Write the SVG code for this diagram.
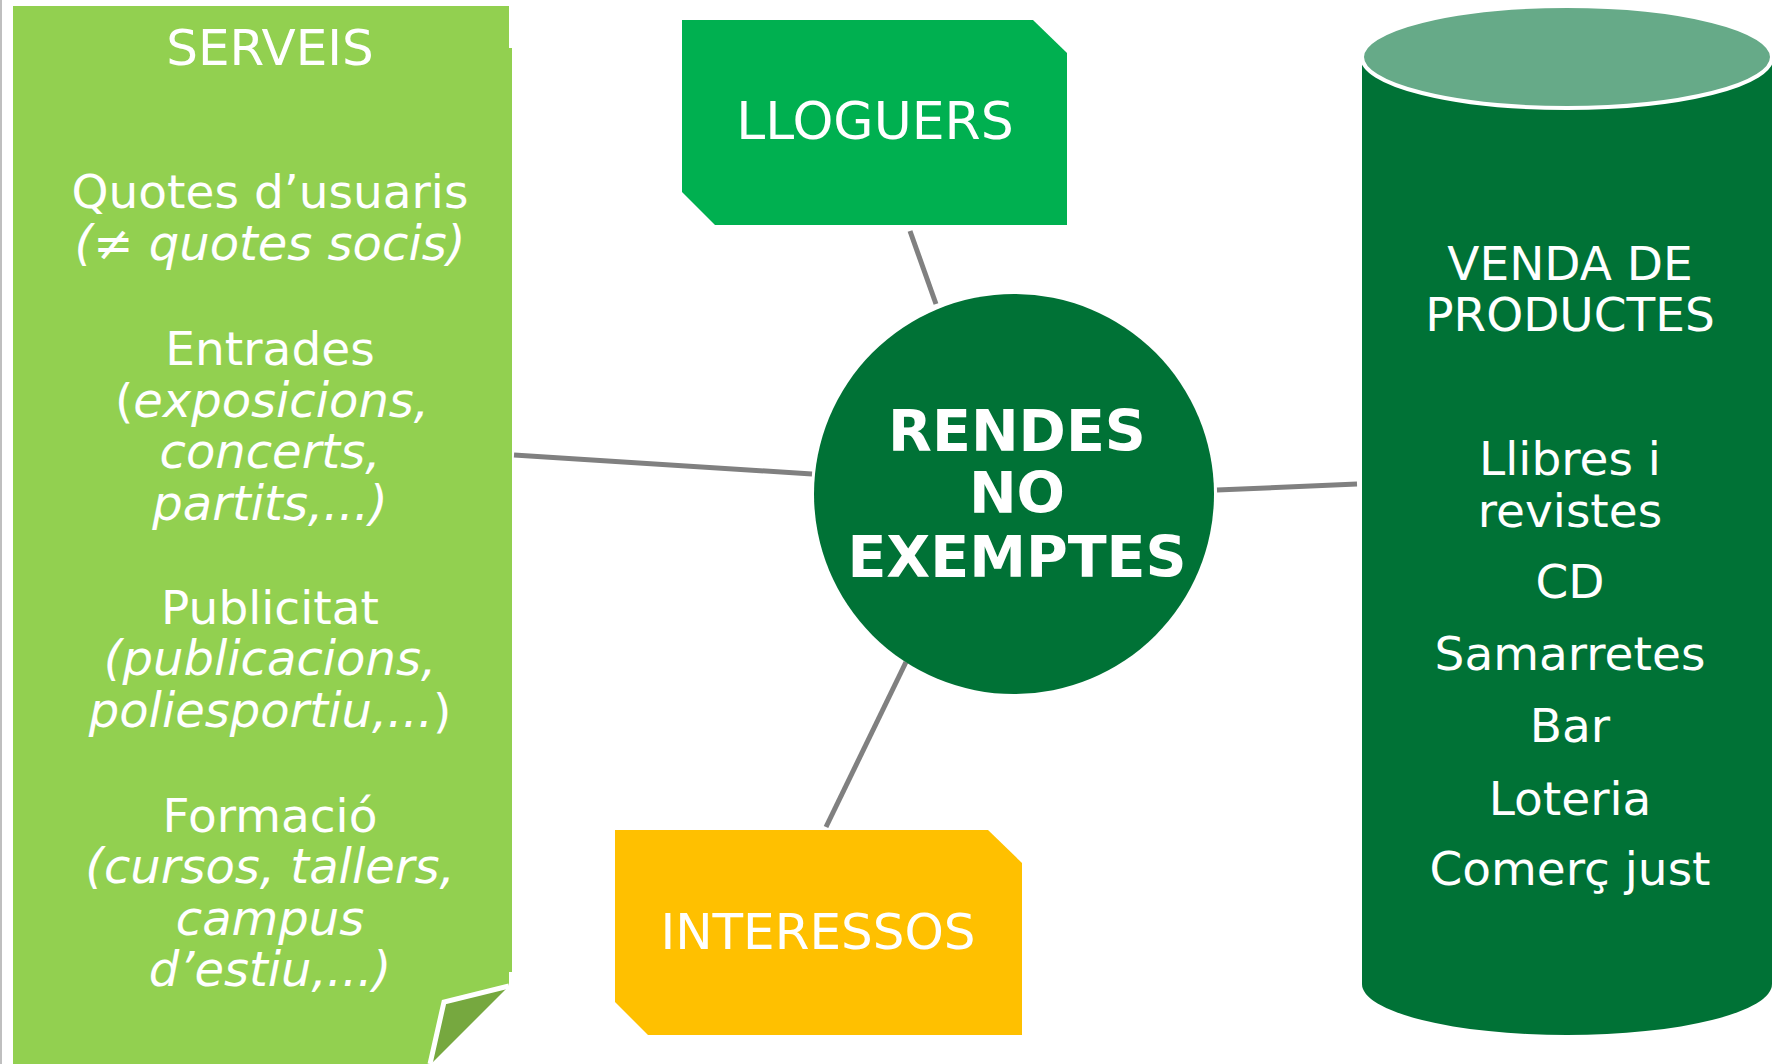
<svg xmlns="http://www.w3.org/2000/svg" width="1773" height="1064" viewBox="0 0 1773 1064">
<style>
  .t { font-family: "DejaVu Sans", Verdana, sans-serif; fill: #FFFFFF; text-anchor: middle; }
  .b { font-size: 47px; }
  .i { font-style: italic; font-size: 48px; }
  .n { font-style: normal; }
  .c { stroke: #808080; stroke-width: 5; fill: none; }
</style>
<rect width="1773" height="1064" fill="#FFFFFF"/>

<g id="connectors">
  <line class="c" x1="514" y1="455" x2="812" y2="474"/>
  <line class="c" x1="910" y1="231" x2="936" y2="304"/>
  <line class="c" x1="1217" y1="490" x2="1357" y2="484"/>
  <line class="c" x1="906" y1="662" x2="826" y2="827"/>
</g>

<g id="serveis">
  <line x1="1" y1="0" x2="1" y2="1064" stroke="#BFBFBF" stroke-width="2"/>
  <polygon points="13,6 509,6 509,48 512,48 512,972 509,972 509,986 444,1002 430,1064 13,1064" fill="#92D050"/>
  <polygon points="444,1002 509,986 432,1063" fill="#76A83F"/>
  <polyline points="509,986 444,1002 430,1064" fill="none" stroke="#FFFFFF" stroke-width="5"/>
  <text class="t" x="270" y="65" font-size="50">SERVEIS</text>
  <text class="t b" x="270" y="208">Quotes d’usuaris</text>
  <text class="t b i" x="270" y="260">(≠ quotes socis)</text>
  <text class="t b" x="270" y="365">Entrades</text>
  <text class="t b" x="272" y="417">(<tspan class="i">exposicions,</tspan></text>
  <text class="t b i" x="270" y="468">concerts,</text>
  <text class="t b i" x="270" y="520">partits,...)</text>
  <text class="t b" x="270" y="624">Publicitat</text>
  <text class="t b i" x="270" y="675">(publicacions,</text>
  <text class="t b" x="270" y="727"><tspan class="i">poliesportiu,...</tspan>)</text>
  <text class="t b" x="270" y="832">Formació</text>
  <text class="t b i" x="270" y="883">(cursos, tallers,</text>
  <text class="t b i" x="270" y="935">campus</text>
  <text class="t b i" x="270" y="986">d’estiu,...)</text>
</g>

<g id="lloguers">
  <polygon points="682,20 1033,20 1067,53 1067,225 715,225 682,192" fill="#00B050"/>
  <text class="t" x="875" y="139" font-size="52">LLOGUERS</text>
</g>

<g id="interessos">
  <polygon points="615,830 988,830 1022,863 1022,1035 648,1035 615,1002" fill="#FFC000"/>
  <text class="t" x="818" y="949" font-size="50">INTERESSOS</text>
</g>

<g id="rendes">
  <circle cx="1014" cy="494" r="200" fill="#007236"/>
  <text class="t" x="1017" y="451" font-size="57" font-weight="bold">RENDES</text>
  <text class="t" x="1017" y="513" font-size="57" font-weight="bold">NO</text>
  <text class="t" x="1017" y="577" font-size="57" font-weight="bold">EXEMPTES</text>
</g>

<g id="venda">
  <path d="M1362,57 L1362,984 A205,51 0 0 0 1772,984 L1772,57 Z" fill="#007236"/>
  <ellipse cx="1567" cy="57" rx="205" ry="51" fill="#66AA88" stroke="#FFFFFF" stroke-width="4"/>
  <text class="t b" x="1570" y="280">VENDA DE</text>
  <text class="t b" x="1570" y="331">PRODUCTES</text>
  <text class="t b" x="1570" y="475">Llibres i</text>
  <text class="t b" x="1570" y="527">revistes</text>
  <text class="t b" x="1570" y="598">CD</text>
  <text class="t b" x="1570" y="670">Samarretes</text>
  <text class="t b" x="1570" y="742">Bar</text>
  <text class="t b" x="1570" y="815">Loteria</text>
  <text class="t b" x="1570" y="885">Comerç just</text>
</g>
</svg>
